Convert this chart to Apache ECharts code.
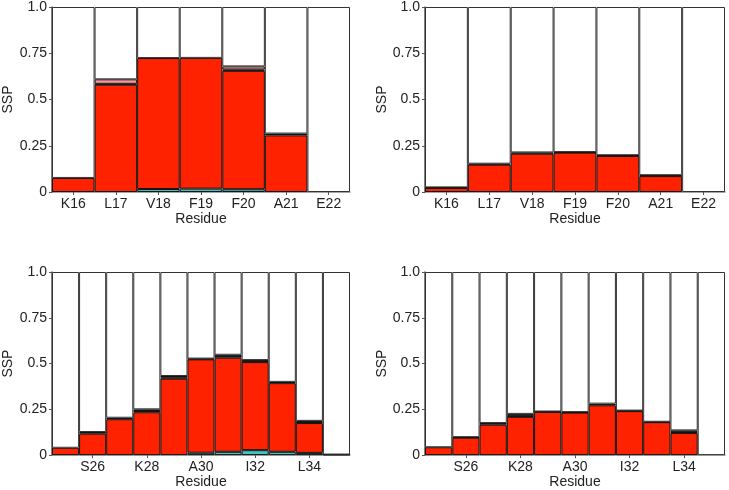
<!DOCTYPE html>
<html><head><meta charset="utf-8">
<script src="https://cdn.jsdelivr.net/npm/echarts@6/dist/echarts.min.js"></script>
<style>html,body{margin:0;padding:0;background:#fff}#c{width:729px;height:490px}</style>
</head><body><div id="c"></div>
<script>
// Categories
const catsTop = ['K16','L17','V18','F19','F20','A21','E22'];
const catsBottom = ['G25','S26','N27','K28','G29','A30','I31','I32','G33','L34','M35'];
const yTicks = ['0','0.25','0.5','0.75','1.0'];

// Panel 1 (top-left)
const p1Cyan  = [0, 0, 0.016, 0.018, 0.015, 0, 0];
const p1Red   = [0.076, 0.58, 0.708, 0.707, 0.64, 0.306, 0];
const p1Black = [0, 0.005, 0, 0, 0.007, 0.01, 0];
const p1Pink  = [0, 0.024, 0, 0, 0.017, 0, 0];

// Panel 2 (top-right)
const p2Cyan  = [0, 0, 0, 0, 0, 0, 0];
const p2Red   = [0.022, 0.148, 0.207, 0.213, 0.195, 0.086, 0];
const p2Black = [0.003, 0.005, 0.007, 0.003, 0.004, 0.005, 0];
const p2Pink  = [0, 0, 0, 0, 0, 0, 0];

// Panel 3 (bottom-left)
const p3Cyan  = [0, 0, 0, 0, 0, 0.013, 0.018, 0.027, 0.018, 0.012, 0];
const p3Red   = [0.04, 0.117, 0.196, 0.234, 0.418, 0.51, 0.514, 0.481, 0.375, 0.163, 0];
const p3Black = [0, 0.009, 0.008, 0.007, 0.006, 0.004, 0.016, 0.011, 0.007, 0.007, 0.003];
const p3Pink  = [0, 0, 0, 0.009, 0.008, 0, 0, 0, 0, 0.005, 0];

// Panel 4 (bottom-right)
const p4Cyan  = [0, 0, 0, 0, 0, 0, 0, 0, 0, 0, 0];
const p4Red   = [0.043, 0.095, 0.166, 0.209, 0.236, 0.232, 0.272, 0.24, 0.18, 0.121, 0];
const p4Black = [0, 0.003, 0.009, 0.005, 0.002, 0.003, 0.009, 0.003, 0.002, 0.006, 0];
const p4Pink  = [0, 0, 0, 0.011, 0, 0, 0, 0, 0, 0.008, 0];

const panels = [
  {cats: catsTop, cyan: p1Cyan, red: p1Red, black: p1Black, pink: p1Pink, grid: {left: 50, top: 7, width: 300, height: 185}, nameGapY: 37, every: false},
  {cats: catsTop, cyan: p2Cyan, red: p2Red, black: p2Black, pink: p2Pink, grid: {left: 425, top: 7, width: 300, height: 185}, nameGapY: 36, every: false},
  {cats: catsBottom, cyan: p3Cyan, red: p3Red, black: p3Black, pink: p3Pink, grid: {left: 50, top: 272, width: 300, height: 185}, nameGapY: 37, every: true},
  {cats: catsBottom, cyan: p4Cyan, red: p4Red, black: p4Black, pink: p4Pink, grid: {left: 425, top: 272, width: 300, height: 185}, nameGapY: 36, every: true}
];

const FONT = 'Liberation Sans, Arial, Helvetica, sans-serif';
const segColors = {cyan: '#3fc4c4', red: '#ff2200', black: '#1a1a1a', pink: '#ff9c9c', white: '#ffffff'};

const grids = [], xAxes = [], yAxes = [], series = [];
panels.forEach((p, i) => {
  grids.push(Object.assign({containLabel: false}, p.grid));
  const showFn = p.every ? (idx => idx % 2 === 1) : 0;
  xAxes.push({
    type: 'category', gridIndex: i, data: p.cats,
    name: 'Residue', nameLocation: 'middle', nameGap: 19,
    nameTextStyle: {fontFamily: FONT, fontSize: 14, color: '#222', verticalAlign: 'top'},
    axisLine: {lineStyle: {color: '#888', width: 1.5}},
    axisTick: {show: true, alignWithLabel: true, interval: showFn, length: 3, lineStyle: {color: '#555'}},
    axisLabel: {interval: showFn, fontFamily: FONT, fontSize: 14, color: '#222', margin: 5},
    splitLine: {show: false}
  });
  yAxes.push({
    type: 'value', gridIndex: i, min: 0, max: 1, interval: 0.25,
    name: 'SSP', nameLocation: 'middle', nameGap: p.nameGapY, nameRotate: 90,
    nameTextStyle: {fontFamily: FONT, fontSize: 14, color: '#222'},
    axisLine: {show: true, lineStyle: {color: '#555', width: 1.5}},
    axisTick: {show: true, length: 3, lineStyle: {color: '#555'}},
    axisLabel: {fontFamily: FONT, fontSize: 14, color: '#222', margin: 5,
      formatter: v => yTicks[Math.round(v / 0.25)]},
    splitLine: {show: false}
  });
  const white = p.cats.map((_, k) => 1 - (p.cyan[k] + p.red[k] + p.black[k] + p.pink[k]));
  const segs = [['cyan', p.cyan], ['red', p.red], ['black', p.black], ['pink', p.pink], ['white', white]];
  segs.forEach(([key, arr]) => {
    series.push({
      type: 'bar', xAxisIndex: i, yAxisIndex: i, stack: 's' + i,
      barWidth: '100%', barCategoryGap: '0%',
      data: arr.map(v => (v > 0 ? v : '-')),
      itemStyle: {color: segColors[key], borderColor: key === 'white' ? '#333' : '#111', borderWidth: 1},
      emphasis: {disabled: true}, silent: true, animation: false
    });
  });
});

const chart = echarts.init(document.getElementById('c'), null, {renderer: 'canvas'});
chart.setOption({
  animation: false,
  backgroundColor: '#fff',
  grid: grids, xAxis: xAxes, yAxis: yAxes, series: series
});
</script>
</body></html>
